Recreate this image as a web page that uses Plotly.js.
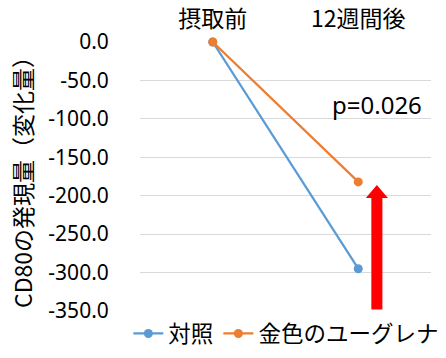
<!DOCTYPE html>
<html><head><meta charset="utf-8">
<script src="https://cdn.plot.ly/plotly-3.0.1.min.js"></script>
<style>html,body{margin:0;padding:0;background:#fff}</style>
</head><body>
<div id="chart" style="width:446px;height:358px"></div>
<script>
const categories = ["摂取前", "12週間後"];
const controlValues = [0, -295];
const euglenaValues = [0, -182];
const seriesNames = ["対照", "金色のユーグレナ"];
const yTicks = [0, -50, -100, -150, -200, -250, -300, -350];
const pText = "p=0.026";

const fontJP = "Noto Sans CJK JP, Noto Sans, sans-serif";
const fontNum = "Noto Sans, sans-serif";

const traces = [
  {x: categories, y: controlValues, name: seriesNames[0], type: "scatter", mode: "lines+markers",
   line: {color: "#5b9bd5", width: 2.25}, marker: {color: "#5b9bd5", size: 9}, cliponaxis: false},
  {x: categories, y: euglenaValues, name: seriesNames[1], type: "scatter", mode: "lines+markers",
   line: {color: "#ed7d31", width: 2.25}, marker: {color: "#ed7d31", size: 9}, cliponaxis: false}
];

// arrow geometry (paper x, data y)
const ax = 0.814, sw = 0.019, hw = 0.038;
const tipY = -186, baseY = -203, botY = -348;
const arrowPath = `M ${ax-sw} ${botY} L ${ax-sw} ${baseY} L ${ax-hw} ${baseY} L ${ax} ${tipY} L ${ax+hw} ${baseY} L ${ax+sw} ${baseY} L ${ax+sw} ${botY} Z`;

const layout = {
  width: 446, height: 358,
  margin: {l: 140, r: 15, t: 42, b: 47, autoexpand: false},
  paper_bgcolor: "#fff", plot_bgcolor: "#fff",
  showlegend: true,
  legend: {orientation: "h", x: -0.04, xanchor: "left", y: -0.005, yanchor: "top",
    font: {family: fontJP, size: 22.5, color: "#000"}, itemwidth: 30, tracegroupgap: 0},
  xaxis: {type: "category", side: "top", showgrid: false, zeroline: false, showline: false,
    ticks: "outside", ticklen: 5, tickcolor: "rgba(0,0,0,0)",
    tickfont: {family: fontJP, size: 23, color: "#000"}, range: [-0.5, 1.5]},
  yaxis: {range: [-350, 0], tickvals: yTicks, ticktext: yTicks.map(v => v.toFixed(1)),
    showgrid: true, gridcolor: "#d9d9d9", gridwidth: 1, zeroline: false, showline: false,
    ticks: "outside", ticklen: 26, tickcolor: "rgba(0,0,0,0)",
    tickfont: {family: fontNum, size: 21, color: "#000"},
    title: {text: "CD80の発現量（変化量）", font: {family: fontJP, size: 23, color: "#000"}, standoff: 9}},
  annotations: [
    {xref: "paper", yref: "y", x: 0.975, y: -106, xanchor: "right", yanchor: "bottom", text: pText,
     showarrow: false, font: {family: fontNum, size: 24, color: "#000"}}
  ],
  shapes: [
    {type: "path", xref: "paper", yref: "y", path: arrowPath, fillcolor: "#ff0000", line: {width: 0}}
  ]
};

Plotly.newPlot("chart", traces, layout, {displayModeBar: false, staticPlot: true});
</script>
</body></html>
